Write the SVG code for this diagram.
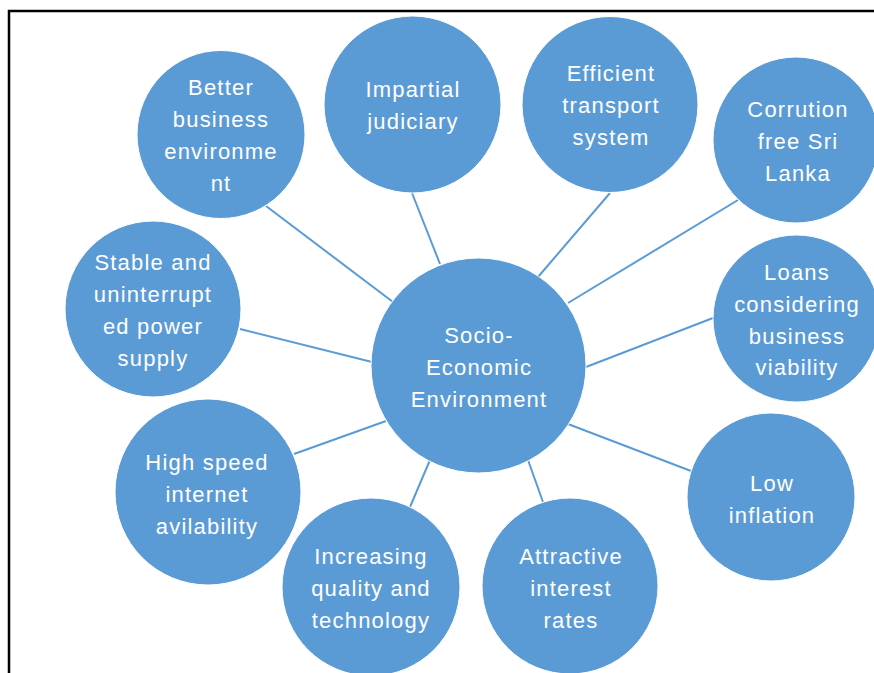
<svg xmlns="http://www.w3.org/2000/svg" width="874" height="673" viewBox="0 0 874 673">
<style>
.n{fill:#5B9BD5;stroke:#ffffff;stroke-width:1}
.t{font-family:"Liberation Sans",Arial,sans-serif;font-size:22px;fill:#ffffff;text-anchor:middle;letter-spacing:1.2px}
.c{stroke:#5B9BD5;stroke-width:2;fill:none}
.f{stroke:#000;stroke-width:2.5;fill:none}
</style>
<rect width="874" height="673" fill="#ffffff"/>
<path class="f" d="M9,673 V11 H874"/>
<g id="connectors">
<line class="c" x1="266" y1="206" x2="393" y2="302"/>
<line class="c" x1="412" y1="193" x2="440" y2="264"/>
<line class="c" x1="610" y1="193" x2="538" y2="277"/>
<line class="c" x1="738" y1="200" x2="568" y2="303"/>
<line class="c" x1="713" y1="318" x2="586" y2="367"/>
<line class="c" x1="691" y1="471" x2="568" y2="424"/>
<line class="c" x1="543" y1="502" x2="528" y2="460"/>
<line class="c" x1="410" y1="507" x2="430" y2="460"/>
<line class="c" x1="294" y1="454" x2="386" y2="421"/>
<line class="c" x1="240" y1="329" x2="372" y2="362"/>
</g>
<g id="better"><circle class="n" cx="221" cy="134.5" r="84"/>
<text class="t" x="221" y="95">Better</text><text class="t" x="221" y="127">business</text><text class="t" x="221" y="159">environme</text><text class="t" x="221" y="191">nt</text></g>
<g id="impartial"><circle class="n" cx="412.5" cy="104.5" r="88.5"/>
<text class="t" x="413" y="97">Impartial</text><text class="t" x="413" y="128.5">judiciary</text></g>
<g id="efficient"><circle class="n" cx="610" cy="104.5" r="88"/>
<text class="t" x="611" y="81">Efficient</text><text class="t" x="611" y="113">transport</text><text class="t" x="611" y="145">system</text></g>
<g id="corrution"><circle class="n" cx="796" cy="140" r="83"/>
<text class="t" x="798" y="117">Corrution</text><text class="t" x="798" y="149">free Sri</text><text class="t" x="798" y="181">Lanka</text></g>
<g id="loans"><circle class="n" cx="796.5" cy="318.5" r="83.5"/>
<text class="t" x="797" y="280">Loans</text><text class="t" x="797" y="312">considering</text><text class="t" x="797" y="343.5">business</text><text class="t" x="797" y="375">viability</text></g>
<g id="socio"><circle class="n" cx="478.5" cy="365.5" r="107.5"/>
<text class="t" x="479" y="343">Socio-</text><text class="t" x="479" y="375">Economic</text><text class="t" x="479" y="407">Environment</text></g>
<g id="stable"><circle class="n" cx="153" cy="309" r="88"/>
<text class="t" x="153" y="270">Stable and</text><text class="t" x="153" y="302">uninterrupt</text><text class="t" x="153" y="333.5">ed  power</text><text class="t" x="153" y="365.5">supply</text></g>
<g id="highspeed"><circle class="n" cx="208" cy="492" r="93"/>
<text class="t" x="207" y="470">High speed</text><text class="t" x="207" y="501.5">internet</text><text class="t" x="207" y="533.5">avilability</text></g>
<g id="increasing"><circle class="n" cx="371" cy="587" r="89"/>
<text class="t" x="371" y="564">Increasing</text><text class="t" x="371" y="596">quality and</text><text class="t" x="371" y="627.5">technology</text></g>
<g id="attractive"><circle class="n" cx="570" cy="586" r="88"/>
<text class="t" x="571" y="564">Attractive</text><text class="t" x="571" y="596">interest</text><text class="t" x="571" y="627.5">rates</text></g>
<g id="lowinflation"><circle class="n" cx="771" cy="497" r="84"/>
<text class="t" x="772" y="491">Low</text><text class="t" x="772" y="523">inflation</text></g>
</svg>
